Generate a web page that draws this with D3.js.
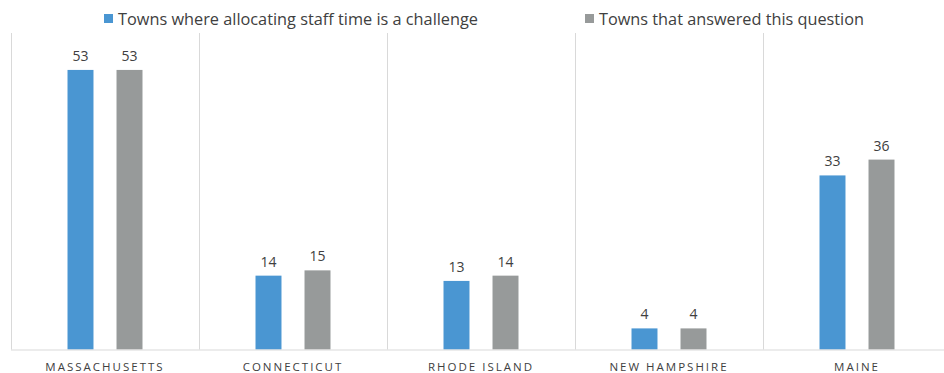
<!DOCTYPE html>
<html><head><meta charset="utf-8">
<script src="https://cdn.jsdelivr.net/npm/d3@7"></script>
<style>body{margin:0;background:#fff}svg{display:block}</style>
</head><body>
<svg id="c" width="944" height="373"></svg>
<script>
const categories = ["MASSACHUSETTS","CONNECTICUT","RHODE ISLAND","NEW HAMPSHIRE","MAINE"];
const seriesNames = ["Towns where allocating staff time is a challenge","Towns that answered this question"];
const challengeValues = [53,14,13,4,33];
const answeredValues = [53,15,14,4,36];
const colors = ["#4a96d2","#979a9a"];

const svg = d3.select("#c");
const mLeft = 11, mRight = 951, mTop = 33, mBottom = 349.5;
const x = d3.scaleBand().domain(categories).range([mLeft,mRight]);
const xs = d3.scaleBand().domain([0,1]).range([0,x.bandwidth()]).paddingInner(0.47).paddingOuter(1.153);
const y = d3.scaleLinear().domain([0,60]).range([mBottom,mTop]);

// separators
const seps = categories.map(c=>x(c));
svg.selectAll("line.sep").data(seps).enter().append("line")
  .attr("x1",d=>d+0.5).attr("x2",d=>d+0.5).attr("y1",mTop).attr("y2",mBottom)
  .attr("stroke","#d9d9d9").attr("stroke-width",1);

const data = categories.map((c,i)=>({c, vals:[challengeValues[i],answeredValues[i]]}));
const g = svg.selectAll("g.cat").data(data).enter().append("g").attr("transform",d=>`translate(${x(d.c)},0)`);
g.selectAll("rect").data(d=>d.vals.map((v,k)=>({v,k}))).enter().append("rect")
  .attr("x",d=>xs(d.k)).attr("width",xs.bandwidth())
  .attr("y",d=>y(d.v)).attr("height",d=>mBottom-y(d.v))
  .attr("fill",d=>colors[d.k]);
g.selectAll("text.val").data(d=>d.vals.map((v,k)=>({v,k}))).enter().append("text")
  .attr("x",d=>xs(d.k)+xs.bandwidth()/2).attr("y",d=>y(d.v)-9)
  .attr("text-anchor","middle").attr("font-family","Open Sans, sans-serif").attr("font-size",14)
  .attr("fill","#404040").text(d=>d.v);

// axis
const ax = svg.append("g").attr("transform",`translate(0,${mBottom})`)
  .call(d3.axisBottom(x).tickSize(0).tickPadding(12));
ax.select(".domain").attr("stroke","#d9d9d9").attr("d",`M${mLeft},0.5H${mRight}`);
ax.selectAll("text").attr("font-family","Open Sans, sans-serif").attr("font-size",11.5)
  .attr("fill","#404040").attr("letter-spacing","2px").attr("dy","0.85em");

// legend
const legX = [104,585], legW=[360,265];
const leg = svg.selectAll("g.leg").data(seriesNames).enter().append("g")
  .attr("transform",(d,i)=>`translate(${legX[i]},0)`);
leg.append("rect").attr("x",0).attr("y",14).attr("width",9).attr("height",9).attr("fill",(d,i)=>colors[i]);
leg.append("text").attr("x",14).attr("y",24.5).attr("font-family","Open Sans, sans-serif")
  .attr("font-size",16).attr("fill","#404040")
  .attr("textLength",(d,i)=>legW[i]).attr("lengthAdjust","spacingAndGlyphs").text(d=>d);
</script>
</body></html>
